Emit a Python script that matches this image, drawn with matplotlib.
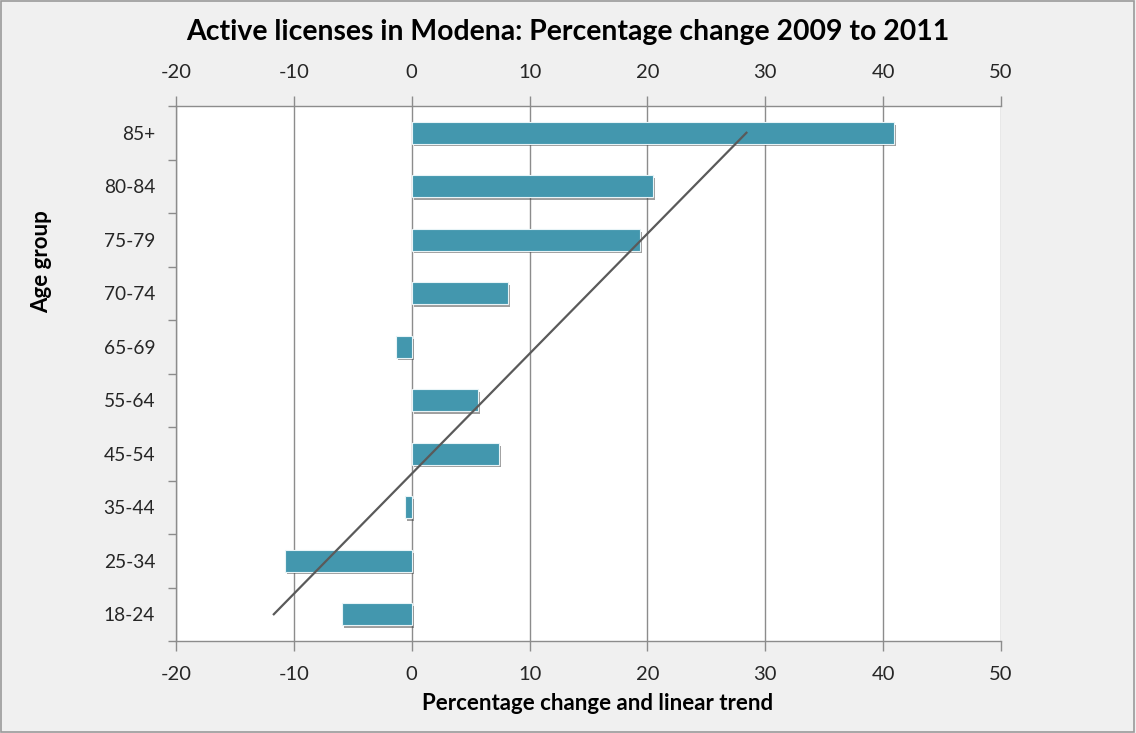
import numpy as np
import matplotlib
matplotlib.use("Agg")
from matplotlib import pyplot as plt
from matplotlib import patheffects as pe
from matplotlib.patches import Rectangle

# Percentage change in active licenses, youngest group first
age_groups = ["18-24", "25-34", "35-44", "45-54", "55-64",
              "65-69", "70-74", "75-79", "80-84", "85+"]
pct_change = [-5.9, -10.75, -0.55, 7.4, 5.6, -1.3, 8.2, 19.4, 20.5, 40.9]
x_ticks = [-20, -10, 0, 10, 20, 30, 40, 50]

BAR = "#4397AE"
GRID = "#8c8c8c"
TEXT = "#262626"


def main():
    plt.rcParams["font.family"] = ["Lato", "DejaVu Sans"]
    fig = plt.figure(figsize=(11.36, 7.33), dpi=100, facecolor="#f0f0f0")
    ax = fig.add_axes([176 / 1136, 1 - 641 / 733, 825 / 1136, 535 / 733])
    ax.set_facecolor("white")

    pos = np.arange(len(age_groups))
    bars = ax.barh(pos, pct_change, height=0.41, color=BAR,
                   edgecolor="#e8f4f7", linewidth=0.8, zorder=3)
    for b in bars:
        b.set_path_effects([
            pe.SimplePatchShadow(offset=(1.5, -2), shadow_rgbFace="#404040", alpha=0.5),
            pe.Normal(),
        ])

    # linear trend across the groups
    slope, intercept = np.polyfit(pos, pct_change, 1)
    trend = slope * pos + intercept
    ax.plot([trend[0], trend[-1]], [pos[0], pos[-1]], color="#5a5a5a",
            linewidth=1.6, zorder=4)

    ax.set_xlim(-20, 50)
    ax.set_ylim(-0.5, len(age_groups) - 0.5)
    ax.set_xticks(x_ticks)
    ax.set_xticklabels([str(t) for t in x_ticks])
    ax.xaxis.grid(True, color=GRID, linewidth=1.0, zorder=1)
    ax.set_axisbelow(True)

    ax.set_yticks(pos)
    ax.set_yticklabels(age_groups)
    ax.set_yticks(np.arange(len(age_groups) + 1) - 0.5, minor=True)
    ax.tick_params(axis="y", which="major", length=0, pad=15,
                   labelsize=13.8, labelcolor=TEXT)
    ax.tick_params(axis="y", which="minor", length=6, width=1.0,
                   color=GRID, direction="out")
    ax.tick_params(axis="x", which="major", top=True, labeltop=True,
                   length=7, width=1.0, color=GRID, direction="out",
                   labelsize=14.5, labelcolor=TEXT, pad=11)

    for side in ("left", "right", "top", "bottom"):
        ax.spines[side].set_color(GRID)
        ax.spines[side].set_linewidth(1.0)
    ax.spines["right"].set_visible(False)

    fig.text(568 / 1136, 1 - 32 / 733,
             "Active licenses in Modena: Percentage change 2009 to 2011",
             ha="center", va="center", fontsize=20.4, fontweight="bold",
             color="black")
    fig.text(598 / 1136, 1 - 704 / 733, "Percentage change and linear trend",
             ha="center", va="center", fontsize=16, fontweight="bold",
             color="black")
    fig.text(42 / 1136, 1 - 262 / 733, "Age group", rotation=90,
             ha="center", va="center", fontsize=16, fontweight="bold",
             color="black")

    fig.patches.append(Rectangle((0.0005, 0.0008), 0.998, 0.998,
                                 transform=fig.transFigure, fill=False,
                                 edgecolor="#9a9a9a", linewidth=1.2))

    fig.savefig("out.png", dpi=100, facecolor=fig.get_facecolor())


if __name__ == "__main__":
    main()
